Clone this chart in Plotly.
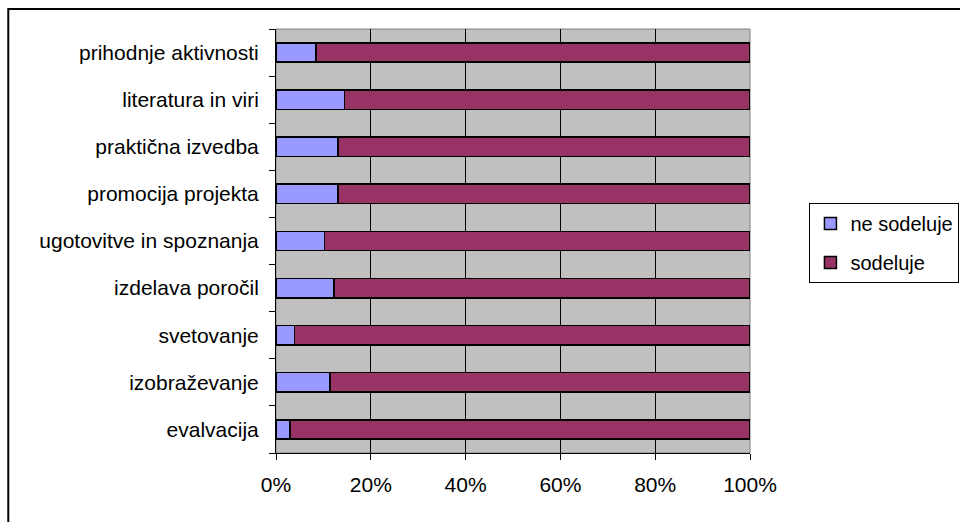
import plotly.graph_objects as go

categories = ["evalvacija", "izobraževanje", "svetovanje", "izdelava poročil",
              "ugotovitve in spoznanja", "promocija projekta", "praktična izvedba",
              "literatura in viri", "prihodnje aktivnosti"]
ne_sodeluje = [3.0, 11.4, 3.9, 12.2, 10.2, 13.1, 13.1, 14.4, 8.4]
sodeluje = [100 - v for v in ne_sodeluje]
x_ticks = [0, 20, 40, 60, 80, 100]
x_tick_labels = ["0%", "20%", "40%", "60%", "80%", "100%"]

L, R, T, B = 276, 960 - 750.5, 29, 522 - 453
PW, PH = 960 - L - R, 522 - T - B

def px2x(px):
    return (px - L) / PW

def py2y(py):
    return (522 - B - py) / PH

fig = go.Figure()
fig.add_trace(go.Bar(y=categories, x=ne_sodeluje, orientation="h", name="ne sodeluje",
                     legendgroup="a",
                     marker=dict(color="#9999FF", line=dict(color="black", width=1.5))))
fig.add_trace(go.Bar(y=categories, x=sodeluje, orientation="h", name="sodeluje",
                     legendgroup="b",
                     marker=dict(color="#993366", line=dict(color="black", width=1.5))))

fig.update_layout(
    width=960, height=522,
    margin=dict(l=L, r=R, t=T, b=B, autoexpand=False),
    barmode="stack", bargap=0.59,
    paper_bgcolor="white", plot_bgcolor="#C0C0C0",
    font=dict(family="Liberation Sans, Arial, sans-serif", size=21, color="black"),
    legend=dict(x=px2x(810), y=py2y(203), xanchor="left", yanchor="top",
                bordercolor="black", borderwidth=1, bgcolor="white",
                font=dict(size=20), tracegroupgap=10, traceorder="grouped",
                itemwidth=30, entrywidth=220),
    xaxis=dict(range=[0, 100], tickvals=x_ticks, ticktext=x_tick_labels,
               showgrid=True, gridcolor="black", gridwidth=1,
               showline=True, linecolor="black", linewidth=1,
               ticks="outside", ticklen=6, tickcolor="black",
               ticklabelstandoff=7, zeroline=False, fixedrange=True,
               automargin=False),
    yaxis=dict(categoryorder="array", categoryarray=categories,
               showgrid=False, showline=True, linecolor="black", linewidth=1,
               ticks="outside", ticklen=6, tickcolor="black", tickson="boundaries",
               ticklabelstandoff=12, fixedrange=True, automargin=False),
    shapes=[
        dict(type="rect", xref="paper", yref="paper", x0=0, x1=1, y0=0, y1=1,
             line=dict(color="#808080", width=1), layer="below"),
        dict(type="rect", xref="paper", yref="paper",
             x0=px2x(8), x1=px2x(975), y0=py2y(9), y1=py2y(535),
             line=dict(color="black", width=2)),
    ],
)

fig.write_html("out.html", config={"displayModeBar": False},
               post_script="document.body.style.margin='0';document.body.style.overflow='hidden';")
